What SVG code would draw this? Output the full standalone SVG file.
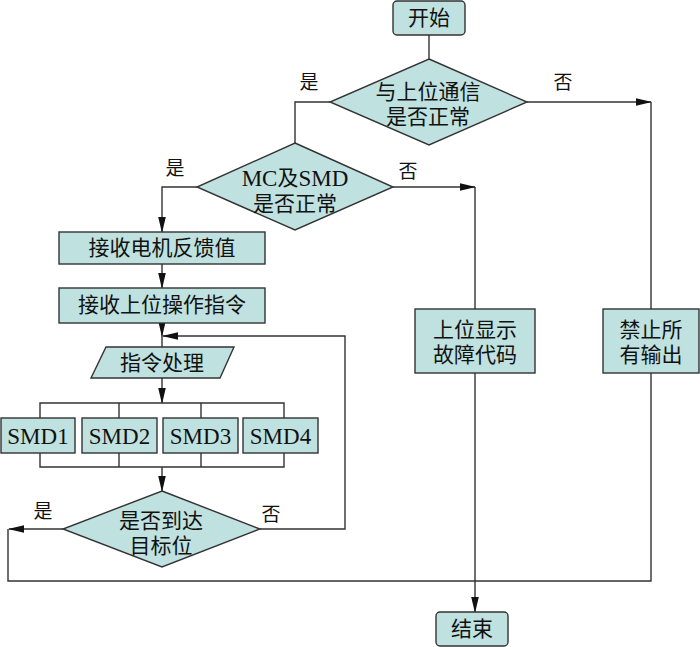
<svg xmlns="http://www.w3.org/2000/svg" width="700" height="647" viewBox="0 0 700 647">
<defs>
<style>
.n{fill:#bfe1df;stroke:#333;stroke-width:1.4}
.c{fill:none;stroke:#333;stroke-width:1.4}
text{font-family:"Liberation Serif","Noto Sans CJK SC",serif;font-size:21px;fill:#111;text-anchor:middle;dominant-baseline:central}
.l{font-size:19px}
.s{font-size:23px}
</style>
<marker id="a" markerUnits="userSpaceOnUse" markerWidth="16" markerHeight="10" viewBox="0 0 16 10" refX="15" refY="5" orient="auto">
<path d="M0,1.2 L16,5 L0,8.8 Z" fill="#111"/>
</marker>
</defs>
<g id="connectors">
<path class="c" d="M429,35 V59"/>
<path class="c" d="M330,102 H295 V143"/>
<path class="c" d="M527,102 H651" marker-end="url(#a)"/>
<path class="c" d="M651,102 V309"/>
<path class="c" d="M197,187 H162 V232" marker-end="url(#a)"/>
<path class="c" d="M393,187 H475" marker-end="url(#a)"/>
<path class="c" d="M475,187 V309"/>
<path class="c" d="M162,264 V288" marker-end="url(#a)"/>
<path class="c" d="M162,323 V336" marker-end="url(#a)"/>
<path class="c" d="M162,336 V347"/>
<path class="c" d="M162,378 V403" marker-end="url(#a)"/>
<path class="c" d="M40,418 V403 H284 V418 M119,403 V418 M201,403 V418"/>
<path class="c" d="M40,453 V467 H284 V453 M119,453 V467 M201,453 V467"/>
<path class="c" d="M162,467 V491" marker-end="url(#a)"/>
<path class="c" d="M260,529 H345 V336 H163" marker-end="url(#a)"/>
<path class="c" d="M63,529 H9" marker-end="url(#a)"/>
<path class="c" d="M8,529 V581 H651 V373"/>
<path class="c" d="M475,373 V612" marker-end="url(#a)"/>
</g>
<g id="start"><rect class="n" x="393" y="1" width="72" height="34" rx="4"/><text x="429" y="18">开始</text></g>
<g id="d1"><path class="n" d="M429,59 L527,102 L429,145 L330,102 Z"/><text x="428" y="92">与上位通信</text><text x="428" y="117">是否正常</text></g>
<text class="l" x="309" y="82">是</text>
<text class="l" x="563" y="82">否</text>
<g id="d2"><path class="n" d="M295,143 L393,187 L295,230 L197,187 Z"/><text x="295" y="178"><tspan class="s">MC</tspan>及<tspan class="s">SMD</tspan></text><text x="295" y="204">是否正常</text></g>
<text class="l" x="175" y="168">是</text>
<text class="l" x="408" y="171">否</text>
<g id="recvfb"><rect class="n" x="59" y="232" width="206" height="32"/><text x="162" y="248">接收电机反馈值</text></g>
<g id="recvcmd"><rect class="n" x="59" y="288" width="206" height="35"/><text x="162" y="305">接收上位操作指令</text></g>
<g id="proc"><path class="n" d="M106,347 H234 L220,378 H91 Z"/><text x="162" y="363">指令处理</text></g>
<g id="smd1"><rect class="n" x="1" y="418" width="74" height="35"/><text class="s" x="38" y="436">SMD1</text></g>
<g id="smd2"><rect class="n" x="82" y="418" width="75" height="35"/><text class="s" x="119.5" y="436">SMD2</text></g>
<g id="smd3"><rect class="n" x="163" y="418" width="75" height="35"/><text class="s" x="200.5" y="436">SMD3</text></g>
<g id="smd4"><rect class="n" x="243" y="418" width="75" height="35"/><text class="s" x="280.5" y="436">SMD4</text></g>
<g id="d3"><path class="n" d="M162,491 L260,529 L162,567 L63,529 Z"/><text x="161" y="521">是否到达</text><text x="161" y="546">目标位</text></g>
<text class="l" x="43" y="511">是</text>
<text class="l" x="271" y="514">否</text>
<g id="fault"><rect class="n" x="415" y="309" width="120" height="64"/><text x="475" y="330">上位显示</text><text x="475" y="355">故障代码</text></g>
<g id="stop"><rect class="n" x="603" y="309" width="96" height="64"/><text x="651" y="330">禁止所</text><text x="651" y="355">有输出</text></g>
<g id="end"><rect class="n" x="436" y="612" width="72" height="34" rx="4"/><text x="472" y="629">结束</text></g>
</svg>
